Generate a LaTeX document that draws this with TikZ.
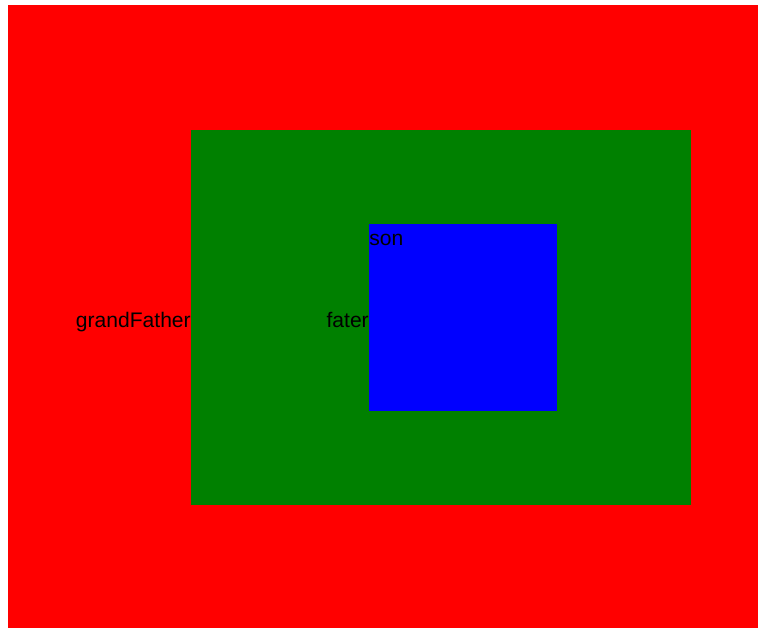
\documentclass[tikz,border=0pt]{standalone}
\usepackage{fontspec}
\setmainfont{Liberation Sans}
\definecolor{gfred}{RGB}{255,0,0}
\definecolor{fagreen}{RGB}{0,128,0}
\definecolor{sonblue}{RGB}{0,0,255}
\begin{document}
\begin{tikzpicture}[x=0.75pt,y=-0.75pt,
  lbl/.style={inner sep=0pt,font=\fontsize{15.8}{18}\selectfont,text=black}]
\useasboundingbox (0,0) rectangle (767,628);
\fill[white] (0,0) rectangle (767,628);
\fill[gfred] (8,5) rectangle (758,628);
\fill[fagreen] (191,130) rectangle (691,505);
\fill[sonblue] (369,224) rectangle (557,411);
\node[lbl,anchor=base east] (gf) at (191,327) {grandFather};
\node[lbl,anchor=base east] (fa) at (369,327) {fater};
\node[lbl,anchor=base west] (so) at (369,245) {son};
\end{tikzpicture}
\end{document}
